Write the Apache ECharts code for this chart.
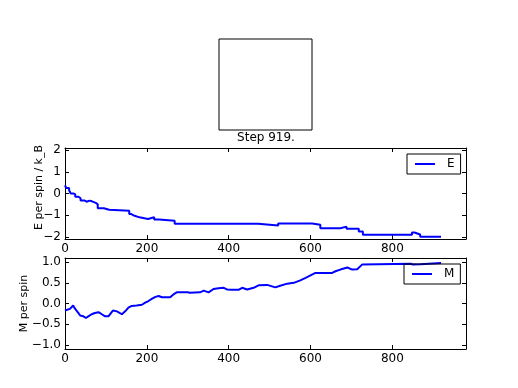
<!DOCTYPE html>
<html>
<head>
<meta charset="utf-8">
<script src="https://cdn.jsdelivr.net/npm/echarts@6/dist/echarts.min.js"></script>
<style>html,body{margin:0;padding:0;background:#fff}#c{width:518px;height:388px}</style>
</head>
<body>
<div id="c"></div>
<script>
const titleText = 'Step 919.';
const xTicks = [0, 200, 400, 600, 800];
const eTicks = [-2, -1, 0, 1, 2];
const mTicks = [-1.0, -0.5, 0.0, 0.5, 1.0];
const energy = [[0,0.38],[3,0.25],[10,0.15],[14,0.0],[20,-0.03],[25,-0.15],[33,-0.22],[38,-0.32],[47,-0.38],[53,-0.33],[60,-0.36],[66,-0.43],[75,-0.5],[80,-0.68],[95,-0.75],[108,-0.71],[112,-0.8],[157,-0.95],[162,-1.03],[170,-1.1],[182,-1.18],[203,-1.1],[218,-1.2],[230,-1.26],[268,-1.4],[472,-1.48],[521,-1.38],[604,-1.44],[624,-1.6],[673,-1.53],[688,-1.63],[718,-1.75],[728,-1.9],[848,-1.8],[854,-1.89],[868,-2.0],[919,-2.0]];
const magnet = [[0,-0.17],[4,-0.21],[12,-0.13],[20,-0.05],[24,-0.12],[32,-0.22],[37,-0.29],[45,-0.31],[51,-0.35],[57,-0.31],[65,-0.26],[73,-0.23],[82,-0.21],[90,-0.26],[98,-0.31],[106,-0.31],[117,-0.17],[127,-0.19],[139,-0.26],[147,-0.19],[155,-0.1],[163,-0.06],[175,-0.05],[188,-0.03],[196,0.02],[204,0.06],[212,0.11],[221,0.16],[229,0.18],[237,0.15],[257,0.15],[265,0.22],[273,0.27],[300,0.27],[305,0.26],[330,0.27],[339,0.31],[351,0.27],[363,0.35],[375,0.37],[388,0.38],[396,0.34],[408,0.33],[424,0.33],[433,0.38],[445,0.34],[461,0.38],[473,0.44],[494,0.45],[514,0.39],[526,0.43],[543,0.48],[559,0.5],[575,0.56],[588,0.62],[600,0.68],[612,0.74],[653,0.74],[661,0.78],[673,0.82],[690,0.87],[702,0.82],[714,0.83],[726,0.94],[730,0.96],[845,0.96],[850,0.94],[869,0.95],[873,0.98],[919,0.98]];

const FONT = 'DejaVu Sans';
const minus = v => String(v).replace('-', '\u2212');
function xAx(grid, pos, labels) {
  return {
    type: 'value', gridIndex: grid, position: pos, min: 0, max: 980,
    axisLine: {show: true, onZero: false, lineStyle: {color: '#000', width: 1}},
    axisTick: {show: true, inside: true, length: 4, customValues: xTicks, lineStyle: {color: '#000'}},
    axisLabel: {show: labels, customValues: xTicks, margin: 4, color: '#000', fontFamily: FONT, fontSize: 12},
    splitLine: {show: false}
  };
}
function yAx(grid, pos, labels, min, max, ticks, fmt, name, gap, pad) {
  return {
    type: 'value', gridIndex: grid, position: pos, min: min, max: max,
    name: labels ? name : '', nameLocation: 'middle', nameGap: gap, nameRotate: 90, nameMoveOverlap: false,
    nameTextStyle: {color: '#000', fontFamily: FONT, fontSize: 11, padding: pad || 0},
    axisLine: {show: true, onZero: false, lineStyle: {color: '#000', width: 1}},
    axisTick: {show: true, inside: true, length: 4, customValues: ticks, lineStyle: {color: '#000'}},
    axisLabel: {show: labels, customValues: ticks, margin: 4, color: '#000', fontFamily: FONT, fontSize: 12, formatter: fmt},
    splitLine: {show: false}
  };
}
const chart = echarts.init(document.getElementById('c'), null, {renderer: 'canvas'});
chart.setOption({
  animation: false,
  backgroundColor: '#fff',
  grid: [
    {left: 219, top: 39, width: 93, height: 91, show: true, borderColor: '#000', borderWidth: 1, backgroundColor: '#fff'},
    {left: 65, top: 148, width: 401, height: 91},
    {left: 65, top: 258, width: 401, height: 91}
  ],
  xAxis: [
    {type: 'value', gridIndex: 0, show: false, min: 0, max: 1},
    xAx(1, 'bottom', true), xAx(1, 'top', false),
    xAx(2, 'bottom', true), xAx(2, 'top', false)
  ],
  yAxis: [
    {type: 'value', gridIndex: 0, show: false, min: 0, max: 1},
    yAx(1, 'left', true, -2.1, 2.1, eTicks, v => minus(v.toFixed(0)), 'E per spin / k_B', 20, [0, 0, 0, 12]),
    yAx(1, 'right', false, -2.1, 2.1, eTicks, null, '', 0),
    yAx(2, 'left', true, -1.1, 1.1, mTicks, v => minus(v.toFixed(1)), 'M per spin', 35),
    yAx(2, 'right', false, -1.1, 1.1, mTicks, null, '', 0)
  ],
  graphic: [{
    type: 'text', x: 266, y: 138, z: 10,
    style: {text: titleText, align: 'center', verticalAlign: 'middle', fill: '#000', font: '12px "DejaVu Sans"'}
  }],
  legend: [
    {data: ['E'], left: 407, top: 154, orient: 'vertical', borderColor: '#000', borderWidth: 1, borderRadius: 0,
     padding: [4, 6, 4, 8], itemWidth: 20, itemHeight: 2, icon: 'rect',
     textStyle: {color: '#000', fontFamily: FONT, fontSize: 12, padding: [0, 0, 0, 7]}},
    {data: ['M'], left: 404, top: 264, orient: 'vertical', borderColor: '#000', borderWidth: 1, borderRadius: 0,
     padding: [4, 6, 4, 8], itemWidth: 20, itemHeight: 2, icon: 'rect',
     textStyle: {color: '#000', fontFamily: FONT, fontSize: 12, padding: [0, 0, 0, 7]}}
  ],
  series: [
    {name: 'E', type: 'line', xAxisIndex: 1, yAxisIndex: 1, data: energy, step: 'end', showSymbol: false, symbol: 'none',
     lineStyle: {color: '#0000ff', width: 2}, itemStyle: {color: '#0000ff'}},
    {name: 'M', type: 'line', xAxisIndex: 3, yAxisIndex: 3, data: magnet, showSymbol: false, symbol: 'none',
     lineStyle: {color: '#0000ff', width: 2}, itemStyle: {color: '#0000ff'}}
  ]
});
</script>
</body>
</html>
